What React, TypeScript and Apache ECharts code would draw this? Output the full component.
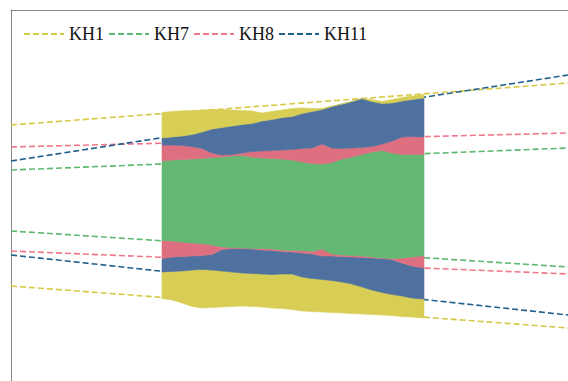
import React, { useEffect, useRef } from "react";
import * as echarts from "echarts";

// x positions (distance units) of the sampled band outline
const bandX = [151, 161, 171, 181, 191, 201, 211, 221, 231, 241, 251, 261, 271, 281, 291, 301, 311, 321, 331, 341, 351, 361, 371, 381, 391, 401, 413];

// boundaries of the stream bands (value units, bottom to top)
const yellowBottom = [91.5, 90, 87, 83.5, 82, 82.5, 83, 83.5, 84, 83.5, 83, 82, 81.5, 80.5, 79, 78.5, 78, 77.5, 77, 76.5, 76, 75.5, 75, 74.5, 73.5, 73, 72];
const blueYellowLow = [118, 118.5, 119, 120, 120.5, 120, 119, 118, 117, 116.5, 116, 115.5, 116, 116, 113, 111.5, 110.5, 109.5, 108, 106, 103, 100, 97.5, 95.5, 94, 92, 91];
const pinkBlueLow = [131.5, 133, 133.5, 134, 134.5, 135.5, 140.5, 141.5, 141.5, 141, 140, 139.5, 138.5, 138, 137, 136, 134, 134, 133.5, 133, 132.5, 132, 131.5, 130.5, 127, 124, 122];
const greenPinkLow = [149.5, 149, 148, 147, 146.5, 145, 143, 142.5, 142, 141.5, 141.5, 141, 140, 139.5, 139.5, 138.5, 141, 136, 135, 134.5, 134, 133, 132, 131.5, 132, 133, 134.5];
const pinkGreenUp = [229, 230, 230.5, 231, 231.5, 232.5, 233, 234, 234.5, 233, 232, 231.5, 231, 230, 228, 226.5, 226, 227.5, 231, 233, 235.5, 238, 239.5, 237, 235.5, 235.5, 235.5];
const bluePinkUp = [245, 245, 244.5, 243.5, 241.5, 237, 235, 235.5, 237, 238.5, 239, 239.5, 240, 240.5, 241.5, 242, 246, 242, 241.5, 242, 242.5, 243.5, 246, 249, 253, 253.5, 253];
const yellowBlueUp = [252, 253, 254, 255.5, 258, 261, 262.5, 264, 265.5, 266.5, 269, 270.5, 272.5, 273.5, 276.5, 278.5, 280.5, 283.5, 286, 288.5, 291.5, 288.5, 286.5, 287, 289, 290.5, 292];
const yellowTop = [277.5, 278.5, 279.2, 279.5, 280, 280.5, 280.5, 280, 279.5, 279, 277, 278.5, 280, 281.5, 282, 281.5, 281.5, 284, 286, 288.5, 291.5, 290.5, 288.5, 290.5, 292.5, 294, 295.5];

// dashed trend lines: [start, end] values at x = 0 and x = 557
const lineX = [0, 557];
const kh1Upper = [265, 307];
const kh1Lower = [104, 62];
const kh7Upper = [220, 242];
const kh7Lower = [159, 123];
const kh8Upper = [243, 257];
const kh8Lower = [139, 116];
const kh11Upper = [229, 315];
const kh11Lower = [135, 75];

const legendNames = ["KH1", "KH7", "KH8", "KH11"];

const C = {
  kh1Line: "#d6c945",
  kh7Line: "#5cb96f",
  kh8Line: "#f0778a",
  kh11Line: "#22608c",
  yellow: "#d9ce55",
  blue: "#4e71a0",
  pink: "#dd6f81",
  green: "#63b874",
};

// bands: [lower boundary, upper boundary, colour]
const bands: [number[], number[], string][] = [
  [yellowBottom, blueYellowLow, C.yellow],
  [blueYellowLow, pinkBlueLow, C.blue],
  [pinkBlueLow, greenPinkLow, C.pink],
  [greenPinkLow, pinkGreenUp, C.green],
  [pinkGreenUp, bluePinkUp, C.pink],
  [bluePinkUp, yellowBlueUp, C.blue],
  [yellowBlueUp, yellowTop, C.yellow],
];

export default function App() {
  const ref = useRef<HTMLDivElement>(null);
  useEffect(() => {
    if (!ref.current) return;
    const chart = echarts.init(ref.current, null, { renderer: "svg" });

    const trend = (name: string, vals: number[], color: string) => ({
      name,
      type: "line",
      symbol: "none",
      silent: true,
      z: 1,
      lineStyle: { color, width: 1.6, type: [6, 3] },
      itemStyle: { color },
      data: lineX.map((x, i) => [x, vals[i]]),
    });

    const stream = {
      name: "stream",
      type: "custom",
      silent: true,
      z: 3,
      data: bands.map((b) => [bandX[0], b[0][0]]),
      renderItem: (params: any, api: any) => {
        const [lower, upper, color] = bands[params.dataIndex];
        const top = upper.map((v, j) => api.coord([bandX[j], v]));
        const bottom = lower.map((v, j) => api.coord([bandX[j], v])).reverse();
        return {
          type: "polygon",
          shape: { points: top.concat(bottom) },
          style: { fill: color, stroke: color, lineWidth: 0.6 },
        };
      },
    };

    const series: any[] = [
      trend("KH1", kh1Upper, C.kh1Line),
      trend("KH1", kh1Lower, C.kh1Line),
      trend("KH7", kh7Upper, C.kh7Line),
      trend("KH7", kh7Lower, C.kh7Line),
      trend("KH8", kh8Upper, C.kh8Line),
      trend("KH8", kh8Lower, C.kh8Line),
      trend("KH11", kh11Upper, C.kh11Line),
      trend("KH11", kh11Lower, C.kh11Line),
      stream,
    ];

    const axisCommon = {
      type: "value",
      axisLine: { show: true, lineStyle: { color: "#888", width: 1 } },
      axisTick: { show: false },
      axisLabel: { show: false },
      splitLine: { show: false },
    };

    chart.setOption({
      animation: false,
      grid: { left: 11, top: 10, right: 0, bottom: 0 },
      legend: {
        data: legendNames,
        left: 18,
        top: 20,
        itemWidth: 40,
        itemHeight: 14,
        itemGap: 4,
        itemStyle: { opacity: 0 },
        textStyle: { fontFamily: "Liberation Serif, serif", fontSize: 18, color: "#111" },
      },
      xAxis: { ...axisCommon, position: "top", min: 0, max: 557 },
      yAxis: { ...axisCommon, position: "left", min: 9, max: 380 },
      series,
    });
    return () => chart.dispose();
  }, []);
  return (
    <div
      ref={ref}
      style={{ position: "absolute", left: 0, top: 0, width: 568, height: 381, background: "#fff" }}
    />
  );
}
